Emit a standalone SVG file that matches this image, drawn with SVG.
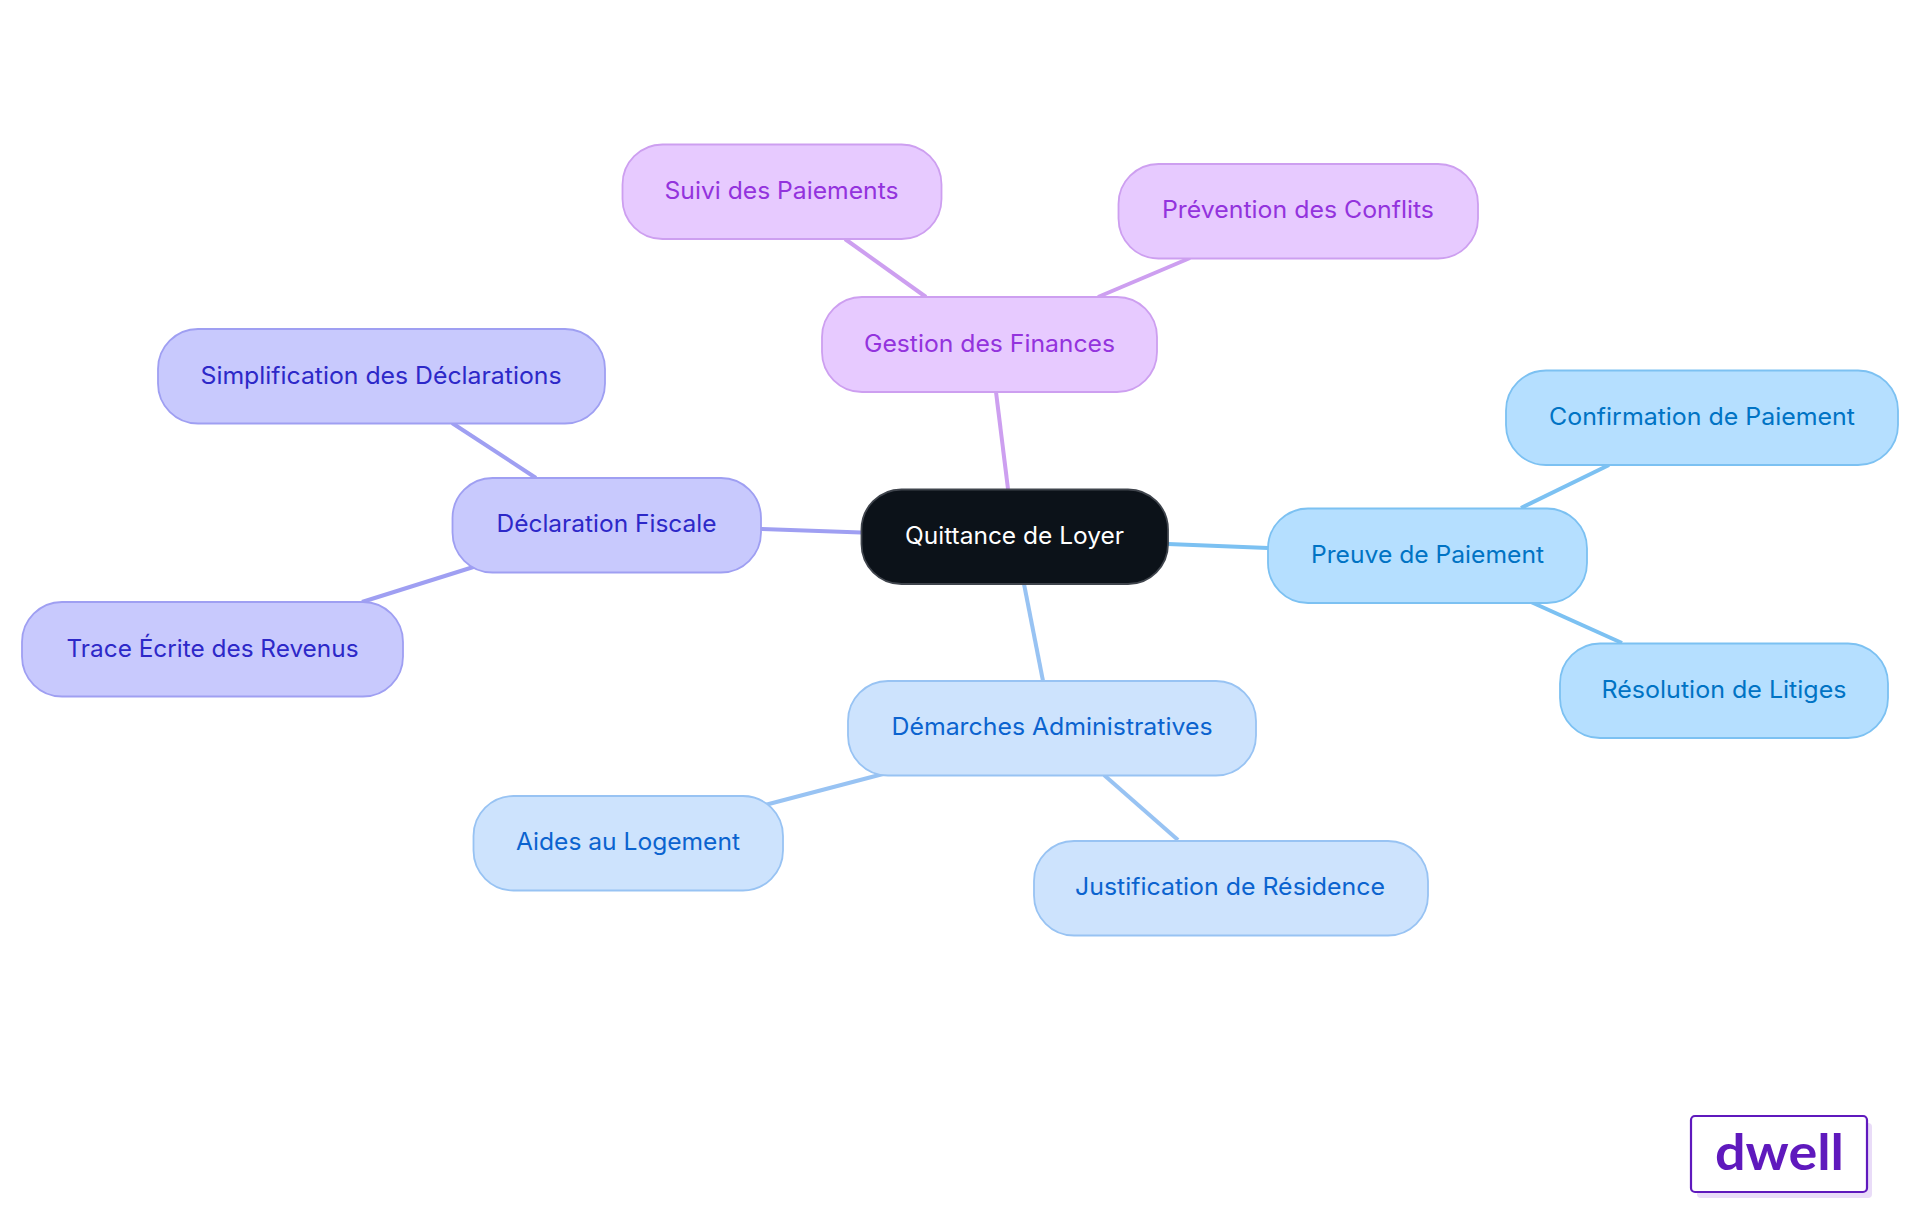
<svg xmlns="http://www.w3.org/2000/svg" width="1920" height="1215" viewBox="0 0 1920 1215">
<style>
.n text{font-family:"Inter","Noto Sans","Liberation Sans",sans-serif;font-size:24px;text-anchor:middle;font-weight:400}
.n rect{stroke-width:1.8}
.c line{stroke-width:4;fill:none}
.root rect{fill:#0c1219;stroke:#3f444c}.root text{fill:#fff}
.pu rect{fill:#e7caff;stroke:#cd9ff0}.pu text{fill:#9333dd}
.sk rect{fill:#b5dfff;stroke:#7cc1f2}.sk text{fill:#0073c4}
.in rect{fill:#c8c9fd;stroke:#9f9ff2}.in text{fill:#2d28c8}
.bl rect{fill:#cde3fd;stroke:#98c3f3}.bl text{fill:#0b63cf}
.pul{stroke:#cd9ff0}.skl{stroke:#7cc1f2}.inl{stroke:#9f9ff2}.bll{stroke:#98c3f3}
</style>
<rect width="1920" height="1215" fill="#fff"/>
<g id="connectors" class="c">
<line class="pul" x1="1008" y1="489" x2="996" y2="392"/>
<line class="pul" x1="845" y1="239" x2="926" y2="297"/>
<line class="pul" x1="1190" y1="258" x2="1098" y2="297"/>
<line class="skl" x1="1168" y1="544" x2="1268" y2="548"/>
<line class="skl" x1="1609" y1="465" x2="1521" y2="508"/>
<line class="skl" x1="1531" y1="602" x2="1622" y2="643"/>
<line class="inl" x1="761" y1="529" x2="861" y2="532.5"/>
<line class="inl" x1="452" y1="423" x2="536" y2="478"/>
<line class="inl" x1="475" y1="566.5" x2="362" y2="602"/>
<line class="bll" x1="1024" y1="584" x2="1043" y2="681"/>
<line class="bll" x1="883" y1="774" x2="765" y2="805"/>
<line class="bll" x1="1104" y1="775" x2="1178" y2="840"/>
</g>
<g id="n-root" class="n root"><rect x="861.5" y="489.5" width="306.5" height="94.5" rx="40"/><text x="1014.5" y="544" textLength="219" lengthAdjust="spacingAndGlyphs">Quittance de Loyer</text></g>
<g id="n-gestion" class="n pu"><rect x="822" y="297" width="335" height="95" rx="40"/><text x="989.5" y="351.5" textLength="251" lengthAdjust="spacingAndGlyphs">Gestion des Finances</text></g>
<g id="n-suivi" class="n pu"><rect x="622.5" y="144.5" width="319" height="94.5" rx="40"/><text x="781.5" y="199" textLength="234" lengthAdjust="spacingAndGlyphs">Suivi des Paiements</text></g>
<g id="n-prevention" class="n pu"><rect x="1118.5" y="164" width="359.5" height="94.5" rx="40"/><text x="1298" y="217.5" textLength="272" lengthAdjust="spacingAndGlyphs">Prévention des Conflits</text></g>
<g id="n-preuve" class="n sk"><rect x="1268" y="508.5" width="319" height="94.5" rx="40"/><text x="1427.5" y="563" textLength="233" lengthAdjust="spacingAndGlyphs">Preuve de Paiement</text></g>
<g id="n-confirmation" class="n sk"><rect x="1506" y="370.5" width="392" height="94.5" rx="40"/><text x="1702" y="425" textLength="306" lengthAdjust="spacingAndGlyphs">Confirmation de Paiement</text></g>
<g id="n-resolution" class="n sk"><rect x="1560" y="643.5" width="328" height="94.5" rx="40"/><text x="1724" y="698" textLength="245" lengthAdjust="spacingAndGlyphs">Résolution de Litiges</text></g>
<g id="n-declaration" class="n in"><rect x="452.5" y="478" width="308.5" height="94.5" rx="40"/><text x="606.5" y="531.5" textLength="220" lengthAdjust="spacingAndGlyphs">Déclaration Fiscale</text></g>
<g id="n-simplification" class="n in"><rect x="158" y="329" width="447" height="94.5" rx="40"/><text x="381" y="383.5" textLength="361" lengthAdjust="spacingAndGlyphs">Simplification des Déclarations</text></g>
<g id="n-trace" class="n in"><rect x="22" y="602" width="381" height="94.5" rx="40"/><text x="212.5" y="656.5" textLength="292" lengthAdjust="spacingAndGlyphs">Trace Écrite des Revenus</text></g>
<g id="n-demarches" class="n bl"><rect x="848" y="681" width="408" height="94.5" rx="40"/><text x="1052" y="734.5" textLength="321" lengthAdjust="spacingAndGlyphs">Démarches Administratives</text></g>
<g id="n-aides" class="n bl"><rect x="473.5" y="796" width="309.5" height="94.5" rx="40"/><text x="628" y="849.5" textLength="224" lengthAdjust="spacingAndGlyphs">Aides au Logement</text></g>
<g id="n-justification" class="n bl"><rect x="1034" y="841" width="394" height="94.5" rx="40"/><text x="1230" y="894.5" textLength="310" lengthAdjust="spacingAndGlyphs">Justification de Résidence</text></g>
<g id="logo">
<rect x="1697" y="1123" width="175" height="75" rx="4" fill="#e9dcf8"/>
<rect x="1691" y="1116" width="176" height="76" rx="4" fill="#fff" stroke="#5f19bd" stroke-width="2.2"/>
<text x="1779.5" y="1170" font-family="Lato,'Open Sans',sans-serif" font-weight="700" font-size="50" fill="#5f19bd" text-anchor="middle" textLength="129" lengthAdjust="spacingAndGlyphs">dwell</text>
</g>
</svg>
